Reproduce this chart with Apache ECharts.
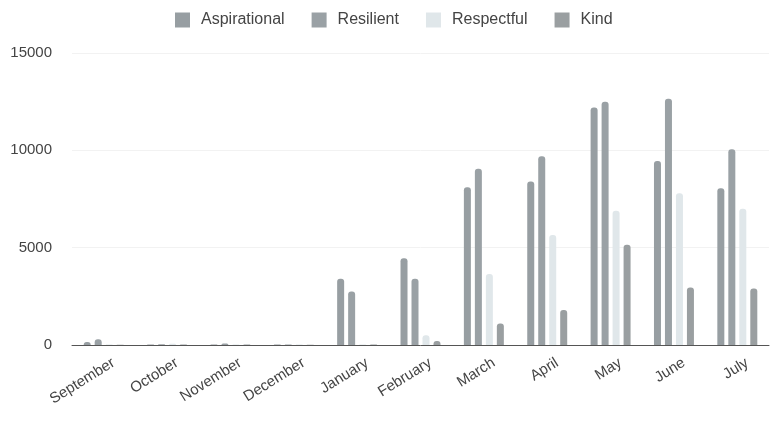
<!DOCTYPE html>
<html>
<head>
<meta charset="utf-8">
<script src="https://cdn.jsdelivr.net/npm/echarts@6/dist/echarts.min.js"></script>
<style>
  html, body { margin: 0; padding: 0; background: #fff; }
  #chart { width: 770px; height: 421px; }
</style>
</head>
<body>
<div id="chart"></div>
<script>
// Monthly counts per value, school year September–July
const months = ['September', 'October', 'November', 'December', 'January', 'February', 'March', 'April', 'May', 'June', 'July'];
const aspirational = [150, 20, 20, 20, 3400, 4450, 8100, 8400, 12200, 9450, 8050];
const resilient    = [300, 40, 80, 20, 2750, 3400, 9050, 9700, 12500, 12650, 10050];
const respectful   = [20, 70, 30, 20, 30, 500, 3650, 5650, 6900, 7800, 7000];
const kind         = [10, 20, 20, 10, 30, 200, 1100, 1800, 5150, 2950, 2900];
const yTicks = [0, 5000, 10000, 15000];

const seriesDefs = [
  { name: 'Aspirational', data: aspirational, color: '#979ea2' },
  { name: 'Resilient',    data: resilient,    color: '#9aa1a5' },
  { name: 'Respectful',   data: respectful,   color: '#e0e7ea' },
  { name: 'Kind',         data: kind,         color: '#9a9fa1' }
];

const chart = echarts.init(document.getElementById('chart'), null, { renderer: 'canvas' });
chart.setOption({
  animation: false,
  textStyle: { fontFamily: 'Liberation Sans, Arial, sans-serif' },
  legend: {
    top: 7,
    left: 170,
    itemWidth: 15,
    itemHeight: 15,
    itemGap: 27,
    icon: 'rect',
    textStyle: { fontSize: 16, color: '#444', padding: [0, 0, 0, 6] },
    data: seriesDefs.map(s => s.name)
  },
  grid: { left: 72, right: 1, top: 53, bottom: 76 },
  xAxis: {
    type: 'category',
    data: months,
    axisTick: { show: false },
    axisLine: { lineStyle: { color: '#555', width: 1 } },
    axisLabel: {
      rotate: 32, fontSize: 15, color: '#444', margin: 14, interval: 0,
      align: 'right', verticalAlign: 'top', padding: [0, -7, 0, 0]
    }
  },
  yAxis: {
    type: 'value',
    min: yTicks[0],
    max: yTicks[yTicks.length - 1],
    interval: 5000,
    axisLine: { show: false },
    axisTick: { show: false },
    axisLabel: { fontSize: 15, color: '#444', margin: 20, formatter: v => String(v) },
    splitLine: { lineStyle: { color: '#f2f2f2', width: 1 } }
  },
  series: seriesDefs.map(s => ({
    name: s.name,
    type: 'bar',
    data: s.data,
    barWidth: 7,
    barGap: '57%',
    itemStyle: { color: s.color, borderRadius: [3, 3, 0, 0] }
  }))
});
</script>
</body>
</html>
